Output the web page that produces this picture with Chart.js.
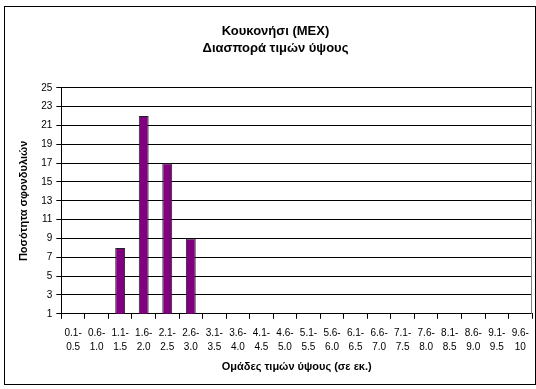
<!DOCTYPE html>
<html><head><meta charset="utf-8">
<script src="https://cdn.jsdelivr.net/npm/chart.js@4/dist/chart.umd.min.js"></script>
<style>html,body{margin:0;padding:0;background:#fff}#w{width:536px;height:389px}</style>
</head><body><div id="w"><canvas id="c" width="536" height="389"></canvas></div>
<script>
const categories = [["0.1-","0.5"],["0.6-","1.0"],["1.1-","1.5"],["1.6-","2.0"],["2.1-","2.5"],["2.6-","3.0"],["3.1-","3.5"],["3.6-","4.0"],["4.1-","4.5"],["4.6-","5.0"],["5.1-","5.5"],["5.6-","6.0"],["6.1-","6.5"],["6.6-","7.0"],["7.1-","7.5"],["7.6-","8.0"],["8.1-","8.5"],["8.6-","9.0"],["9.1-","9.5"],["9.6-","10"]];
const counts = [0,0,8,22,17,9,0,0,0,0,0,0,0,0,0,0,0,0,0,0];
const titleLines = ["Κουκονήσι (MEX)","Διασπορά τιμών ύψους"];
const yTitle = "Ποσότητα σφονδυλιών";
const xTitle = "Ομάδες τιμών ύψους (σε εκ.)";
const FONT = 'Liberation Sans, Arial, sans-serif';

const frame = {
  id:'frame',
  beforeDraw(chart){
    const c=chart.ctx;
    c.save();
    c.fillStyle='#fff';c.fillRect(0,0,chart.width,chart.height);
    c.strokeStyle='#000';c.lineWidth=1;
    c.strokeRect(4.5,6.5,531,378);
    c.restore();
  },
  afterDraw(chart){
    const c=chart.ctx, a=chart.chartArea;
    c.save();
    c.strokeStyle='#808080';c.lineWidth=1;
    const x=Math.round(a.right)-0.5;
    c.beginPath();c.moveTo(x,a.top);c.lineTo(x,a.bottom);c.stroke();
    c.restore();
  }
};

new Chart(document.getElementById('c'),{
  type:'bar',
  data:{labels:categories,datasets:[{data:counts,backgroundColor:'#800080',borderColor:'#222',borderWidth:1,barPercentage:0.42,categoryPercentage:1}]},
  options:{
    responsive:false,animation:false,
    layout:{padding:{left:17,right:2,top:10,bottom:15}},
    plugins:{
      legend:{display:false},tooltip:{enabled:false},
      title:{display:true,text:titleLines,color:'#000',font:{family:FONT,size:13,weight:'bold',lineHeight:1.3},padding:{top:13,bottom:31}}
    },
    scales:{
      x:{
        grid:{drawOnChartArea:false,drawTicks:true,tickLength:5,color:'#000',offset:true},
        border:{color:'#000'},
        ticks:{color:'#000',font:{family:FONT,size:10,lineHeight:1.4},maxRotation:0,autoSkip:false,padding:7},
        title:{display:true,text:xTitle,color:'#000',font:{family:FONT,size:11,weight:'bold'},padding:{top:0,bottom:0}}
      },
      y:{
        min:1,max:25,
        grid:{color:'#000',tickLength:5},
        border:{color:'#000'},
        ticks:{stepSize:2,color:'#000',font:{family:FONT,size:10},padding:4},
        title:{display:true,text:yTitle,color:'#000',font:{family:FONT,size:11,weight:'bold'},padding:{top:0,bottom:7}}
      }
    }
  },
  plugins:[frame]
});
</script></body></html>
